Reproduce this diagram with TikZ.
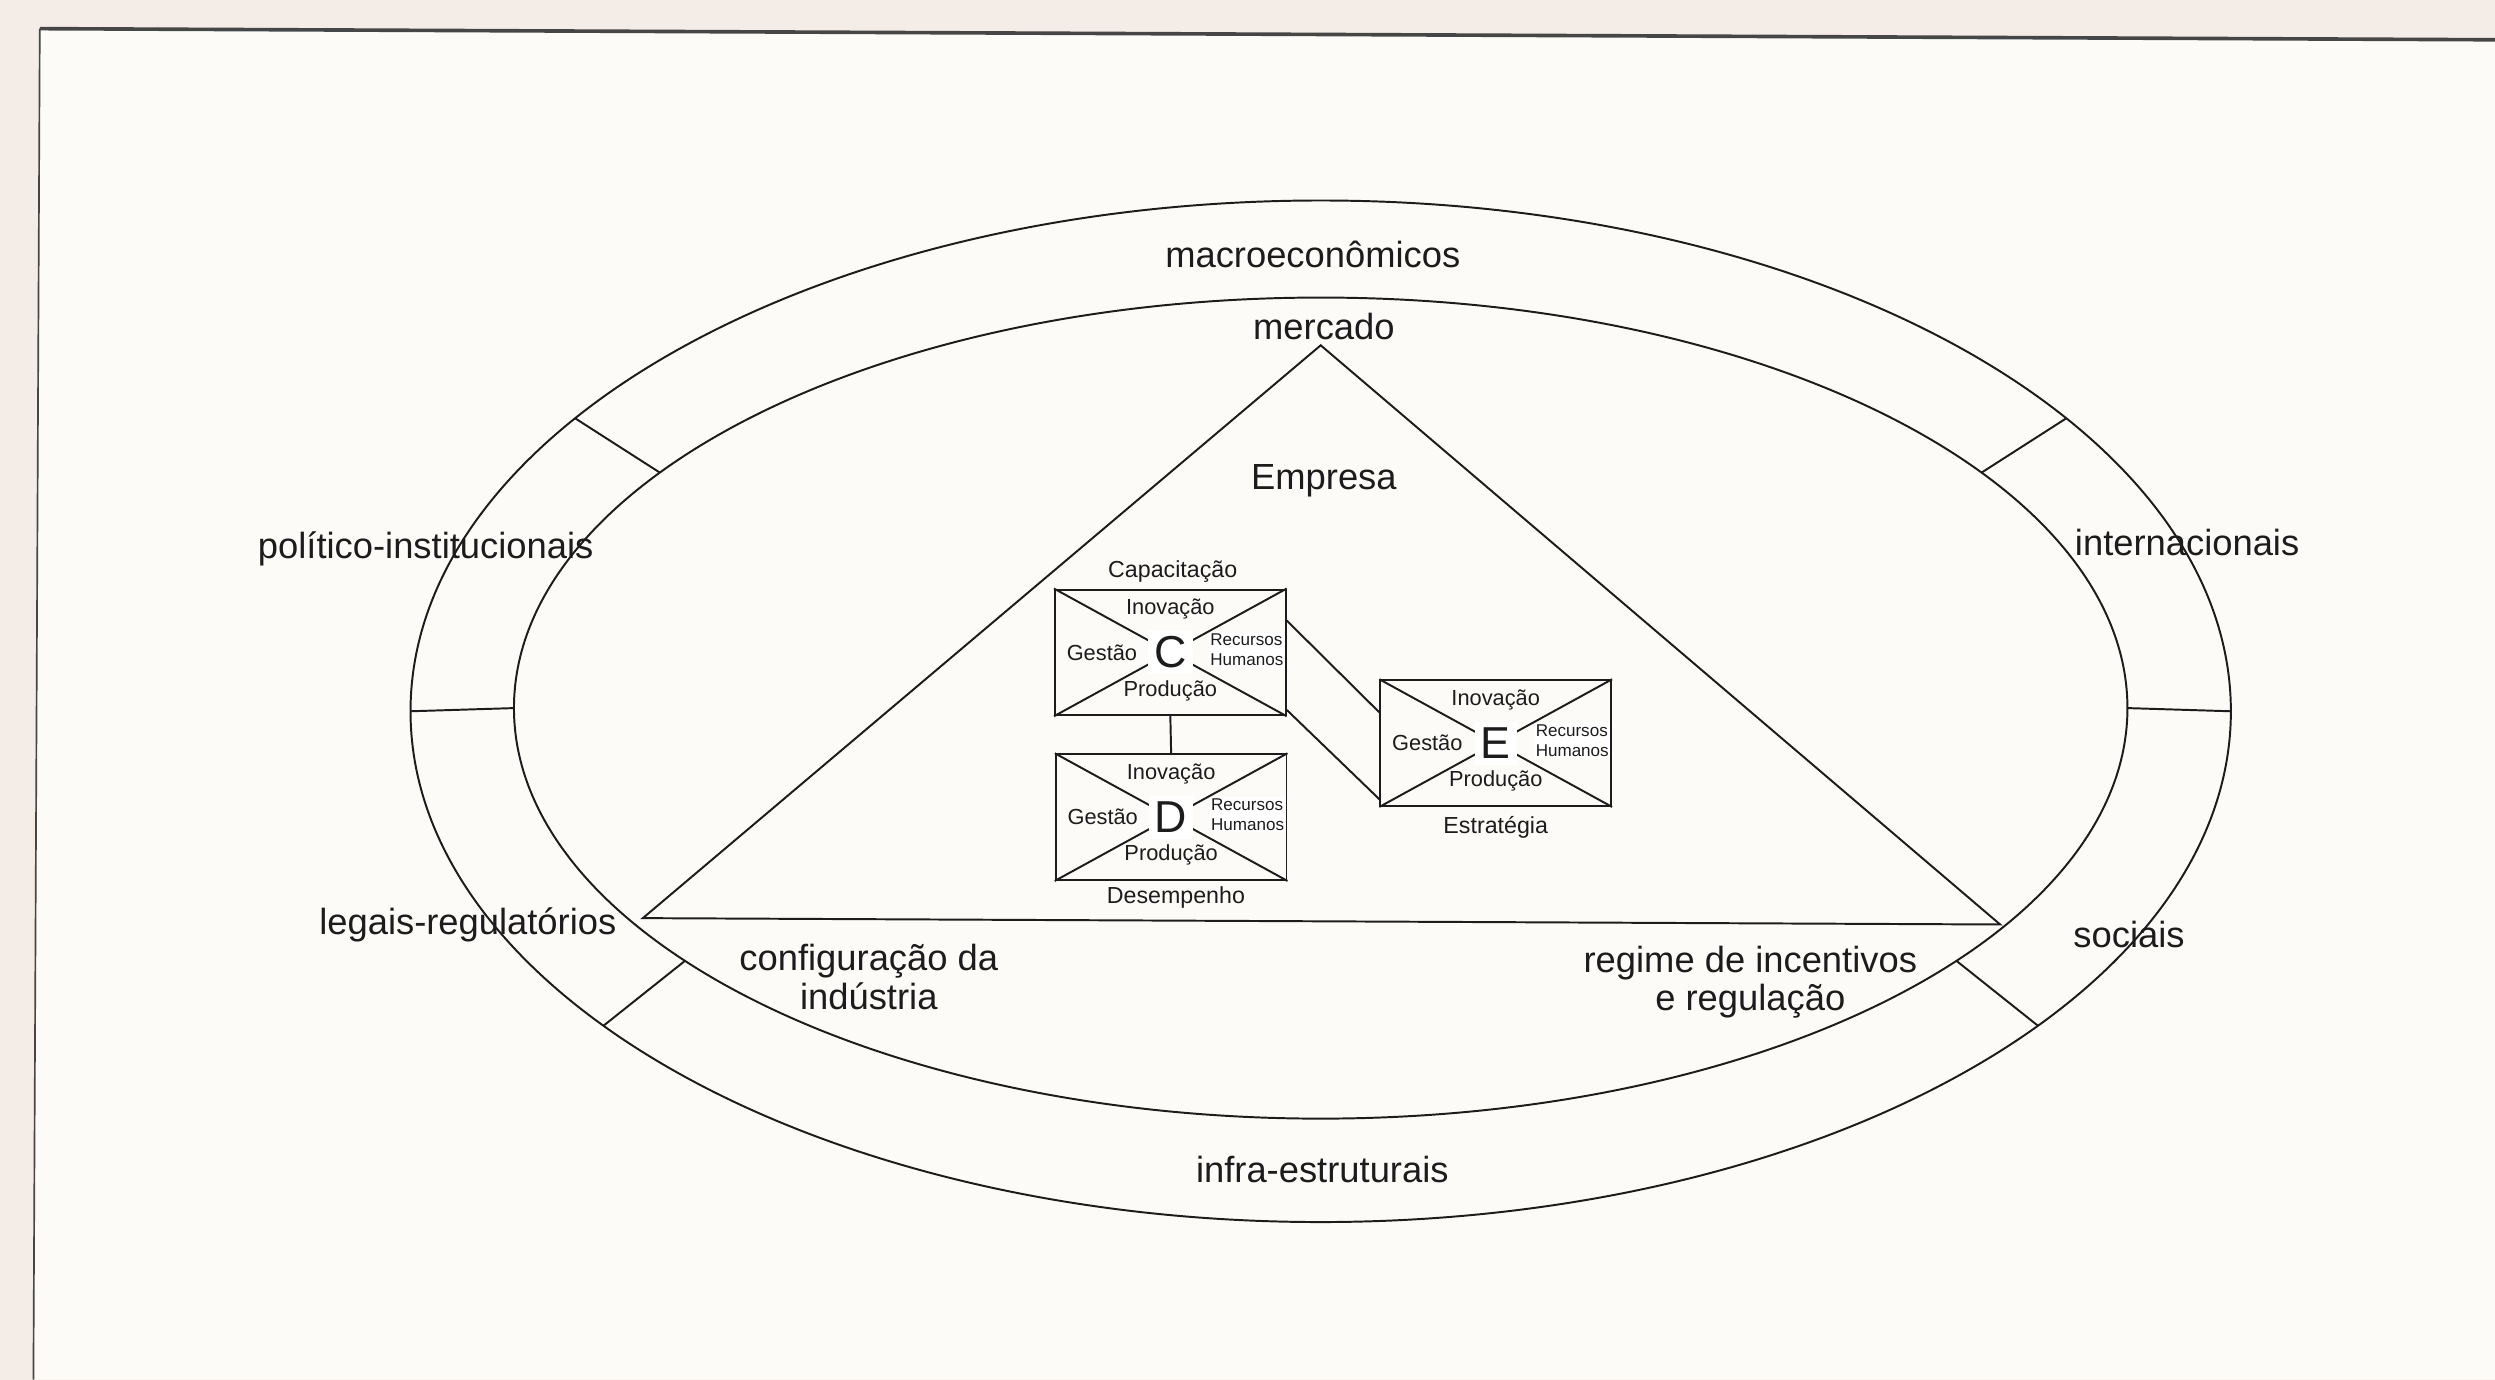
\documentclass[tikz,border=0pt]{standalone}
\usepackage{fontspec}
\setmainfont{Liberation Sans}
\usetikzlibrary{calc}
\definecolor{paper}{RGB}{244,236,230}
\definecolor{sheet}{RGB}{253,251,248}
\definecolor{ink}{RGB}{28,28,28}
\definecolor{frameink}{RGB}{70,70,70}
\newcommand{\quadbox}[3]{%
  \node[quad] (#1) at (#2) {};
  \draw (#1.north west) -- (#1.south east) (#1.north east) -- (#1.south west);
  \node[letterstyle] (#1-l) at (#1.center) {#3};
  \node[lbl] (#1-i) at ($(#1.center)+(0,-27)$) {Inovação};
  \node[lbl] (#1-p) at ($(#1.center)+(0,24)$) {Produção};
  \node[lbl] (#1-g) at ($(#1.center)+(-43,0)$) {Gestão};
  \node[rh, anchor=east] (#1-r) at ($(#1.east)+(-0.6,-1.5)$) {Recursos\\Humanos};
}
\begin{document}
\begin{tikzpicture}[x=0.2mm,y=-0.2mm, line width=0.7pt, draw=ink, text=ink,
  big/.style={font=\fontsize{13}{13.6}\selectfont, inner sep=0pt, align=center},
  quad/.style={draw, rectangle, minimum width=29mm, minimum height=15.8mm, inner sep=0pt},
  lbl/.style={font=\fontsize{7.8}{8}\selectfont, inner sep=0.5pt},
  captionlbl/.style={font=\fontsize{8.3}{9}\selectfont, inner sep=0pt},
  rh/.style={font=\fontsize{6.1}{7.2}\selectfont, align=left, fill=white, inner sep=0.5pt},
  letterstyle/.style={font=\fontsize{16}{16}\selectfont, fill=white, inner sep=2.2pt}]
\useasboundingbox (0,0) rectangle (1568,867);
\fill[paper] (0,0) rectangle (1568,867);
\fill[sheet] (25,18) -- (1568,25) -- (1568,867) -- (21,867) -- cycle;
\coordinate (ftl) at (25,18);
\coordinate (ftr) at (1568,25);
\coordinate (fbl) at (21,867);
\draw[frameink, line width=0.6pt] (ftl) -- (fbl);
\draw[frameink, line width=1.3pt] (ftl) -- (ftr);

% ellipses
\coordinate (oc) at (830,447);
\coordinate (ic) at (830,445);
\draw (oc) ellipse [x radius=572, y radius=321];
\draw (ic) ellipse [x radius=507, y radius=258];
\foreach \t in {35,0,-38,145,180,218}
  \draw ($(oc)+(-\t:572 and 321)$) -- ($(ic)+(-\t:507 and 258)$);

% triangle
\coordinate (apex) at (830,217);
\coordinate (bl) at (404,577);
\coordinate (br) at (1257,581);
\draw (apex) -- (bl) -- (br) -- cycle;

% band labels
\node[big] (macro) at (825,160) {macroeconômicos};
\node[big] (polit) at (267.5,345) {político-institucionais};
\node[big] (inter) at (1374.5,341) {internacionais};
\node[big] (legais) at (294,581) {legais-regulatórios};
\node[big] (soc) at (1338,587) {sociais};
\node[big] (infra) at (831,735) {infra-estruturais};

% inner labels
\node[big] (merc) at (832,205) {mercado};
\node[big] (emp) at (832,302) {Empresa};
\node[big] (conf) at (546,614) {configuração da\\indústria};
\node[big] (reg) at (1100,617) {regime de incentivos\\e regulação};

% boxes
\quadbox{C}{735.5,410}{C}
\quadbox{D}{736,513.5}{D}
\quadbox{E}{940,467}{E}
\node[captionlbl] (capC) at (737,359) {Capacitação};
\node[captionlbl] (capD) at (739,564) {Desempenho};
\node[captionlbl] (capE) at (940,520) {Estratégia};

% connectors
\draw (C.south) -- (D.north);
\draw ($(C.north east)!0.25!(C.south east)$) -- ($(E.north west)!0.26!(E.south west)$);
\draw ($(C.north east)!0.95!(C.south east)$) -- ($(E.north west)!0.94!(E.south west)$);
\end{tikzpicture}
\end{document}
